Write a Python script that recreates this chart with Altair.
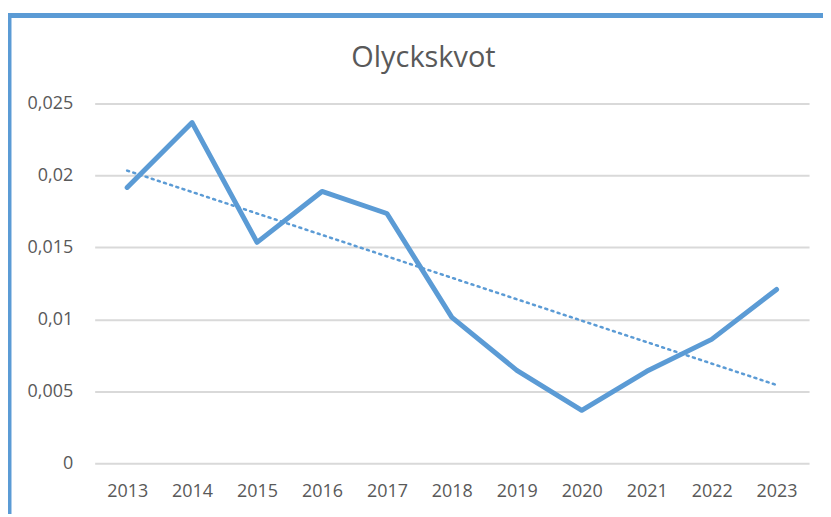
import altair as alt
import pandas as pd

years = [2013, 2014, 2015, 2016, 2017, 2018, 2019, 2020, 2021, 2022, 2023]
olyckskvot = [0.01917, 0.02368, 0.01535, 0.01889, 0.01736, 0.01014,
              0.00646, 0.00368, 0.00639, 0.00861, 0.01208]
y_ticks = [0, 0.005, 0.01, 0.015, 0.02, 0.025]
title_text = ["Olyckskvot"]

df = pd.DataFrame({"year": years, "value": olyckskvot})

FONT = "Open Sans"
GREY = "#595959"
BLUE = "#5B9BD5"

x_enc = alt.X(
    "year:Q",
    scale=alt.Scale(domain=[2012.5, 2023.5], nice=False, zero=False),
    axis=alt.Axis(values=years, format="d", grid=False, ticks=False, domain=False,
                  labelFont=FONT, labelFontSize=18, labelColor=GREY,
                  labelPadding=19, title=None),
)
y_enc = alt.Y(
    "value:Q",
    scale=alt.Scale(domain=[0, 0.025], nice=False),
    axis=alt.Axis(values=y_ticks, grid=True, gridColor="#d9d9d9", gridWidth=2,
                  ticks=False, domain=False, labelFont=FONT, labelFontSize=18,
                  labelColor=GREY, labelPadding=22,
                  labelExpr="replace(toString(datum.value), '.', ',')",
                  title=None),
)

base = alt.Chart(df)

line = base.mark_line(color=BLUE, strokeWidth=5, strokeCap="round",
                      strokeJoin="round").encode(x=x_enc, y=y_enc)

trend = base.transform_regression("year", "value", method="linear").mark_line(
    color=BLUE, strokeWidth=2.5, strokeDash=[2, 4.5], strokeCap="round"
).encode(x="year:Q", y="value:Q")

frame_df = pd.DataFrame({"k": [0]})
frame_top = alt.Chart(frame_df).mark_rule(color=BLUE, strokeWidth=5).encode(
    x=alt.value(-87), x2=alt.value(736), y=alt.value(-88.5)
)
frame_left = alt.Chart(frame_df).mark_rule(color=BLUE, strokeWidth=4).encode(
    x=alt.value(-85.5), y=alt.value(-91), y2=alt.value(414)
)

title = alt.Chart(pd.DataFrame({"t": title_text})).mark_text(
    font=FONT, fontSize=29, color=GREY, align="center", baseline="middle"
).encode(text="t:N", x=alt.value(330), y=alt.value(-46))

chart = alt.layer(frame_top, frame_left, line, trend, title).properties(
    width=717,
    height=361,
    autosize=alt.AutoSizeParams(type="none"),
    padding={"left": 87, "top": 95, "right": 14, "bottom": 50},
).configure_view(stroke=None)

chart.save("out.html", embed_options={"renderer": "svg", "actions": False})
